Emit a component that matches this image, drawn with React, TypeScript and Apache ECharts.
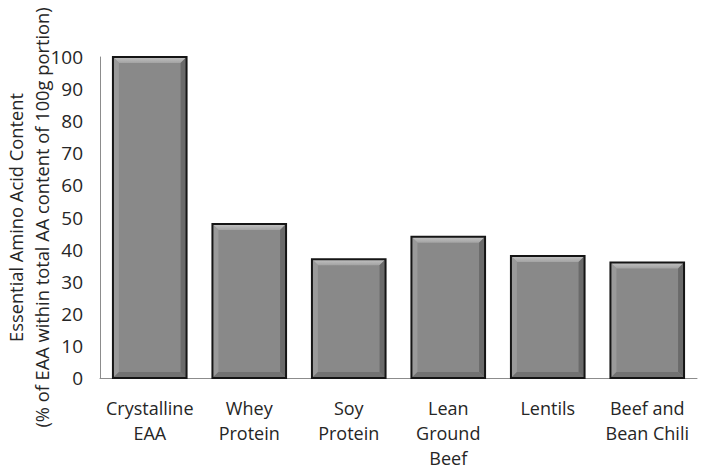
import React, { useEffect, useRef } from "react";
import * as echarts from "echarts";

const categories = ["Crystalline\nEAA", "Whey\nProtein", "Soy\nProtein", "Lean\nGround\nBeef", "Lentils", "Beef and\nBean Chili"];
const values = [100, 48, 37, 44, 38, 36];
const yTicks = { min: 0, max: 100, interval: 10 };
const yTitle = "Essential Amino Acid Content\n(% of EAA within total AA content of 100g portion)";

export default function App() {
  const ref = useRef<HTMLDivElement>(null);
  useEffect(() => {
    const chart = echarts.init(ref.current!, null, { renderer: "svg" });
    const font = "'Open Sans', sans-serif";
    chart.setOption({
      animation: false,
      backgroundColor: "#ffffff",
      grid: { left: 100, right: 10, top: 57, bottom: 94, containLabel: false, outerBoundsMode: "none" },
      xAxis: {
        type: "category",
        data: categories,
        axisLine: { show: true, lineStyle: { color: "#8c8c8c", width: 1 } },
        axisTick: { show: false },
        axisLabel: { color: "#262626", fontFamily: font, fontSize: 18, lineHeight: 25, margin: 17, interval: 0 },
      },
      yAxis: {
        type: "value",
        min: yTicks.min,
        max: yTicks.max,
        interval: yTicks.interval,
        name: yTitle,
        nameLocation: "middle",
        nameRotate: 90,
        nameGap: 46,
        nameMoveOverlap: false,
        nameTextStyle: { color: "#262626", fontFamily: font, fontSize: 18.3, lineHeight: 26, align: "center" },
        axisLine: { show: true, lineStyle: { color: "#8c8c8c", width: 1 } },
        axisTick: { show: false },
        splitLine: { show: false },
        axisLabel: { color: "#262626", fontFamily: font, fontSize: 19, margin: 17 },
      },
      series: [
        {
          type: "custom",
          data: values.map((v, i) => [i, v]),
          encode: { x: 0, y: 1 },
          renderItem: (params: any, api: any) => {
            const i = api.value(0);
            const v = api.value(1);
            const top = api.coord([i, v]);
            const base = api.coord([i, 0]);
            const w = api.size([1, 0])[0] * 0.74;
            const x0 = top[0] - w / 2;
            const y0 = top[1];
            const h = base[1] - top[1];
            const b = 6;
            return {
              type: "group",
              children: [
                { type: "rect", shape: { x: x0, y: y0, width: w, height: h }, style: { fill: "#898989" } },
                {
                  type: "polygon",
                  shape: { points: [[x0, y0], [x0 + w, y0], [x0 + w - b, y0 + b], [x0 + b, y0 + b]] },
                  style: { fill: new echarts.graphic.LinearGradient(0, 0, 0, 1, [{ offset: 0, color: "#c4c4c4" }, { offset: 1, color: "#a3a3a3" }]) },
                },
                {
                  type: "polygon",
                  shape: { points: [[x0, y0], [x0 + b, y0 + b], [x0 + b, y0 + h - b], [x0, y0 + h]] },
                  style: { fill: "#9a9a9a" },
                },
                {
                  type: "polygon",
                  shape: { points: [[x0 + w, y0], [x0 + w - b, y0 + b], [x0 + w - b, y0 + h - b], [x0 + w, y0 + h]] },
                  style: { fill: "#6a6a6a" },
                },
                {
                  type: "polygon",
                  shape: { points: [[x0, y0 + h], [x0 + b, y0 + h - b], [x0 + w - b, y0 + h - b], [x0 + w, y0 + h]] },
                  style: { fill: "#727272" },
                },
                { type: "rect", shape: { x: x0, y: y0, width: w, height: h }, style: { fill: "none", stroke: "#151515", lineWidth: 2 } },
              ],
            };
          },
        },
      ],
    });
    return () => chart.dispose();
  }, []);
  return <div ref={ref} style={{ position: "absolute", left: 0, top: 0, width: 707, height: 472 }} />;
}
